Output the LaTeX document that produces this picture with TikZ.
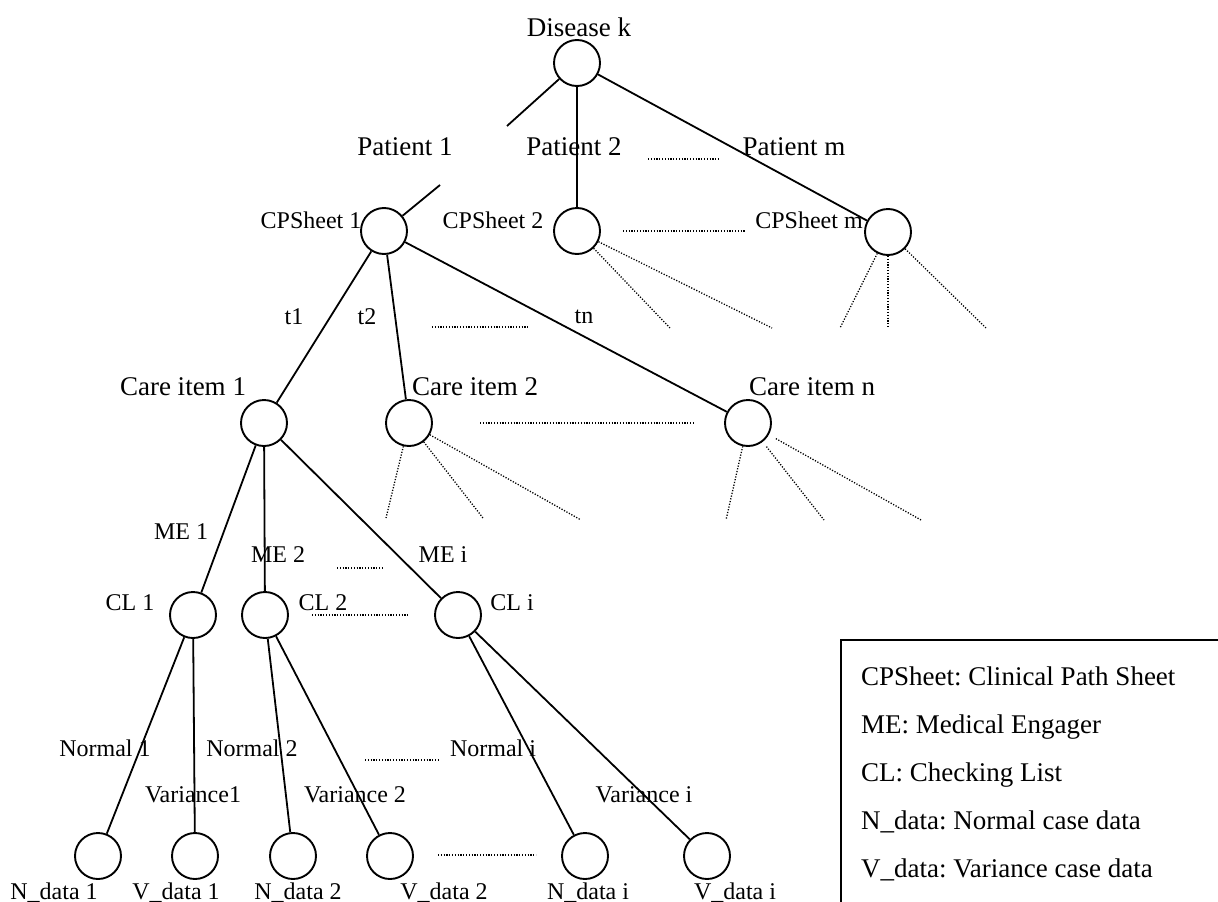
\documentclass[tikz,border=0pt]{standalone}
\usepackage{fontspec}
\setmainfont{Liberation Serif}
\begin{document}
\frenchspacing
\begin{tikzpicture}[x=1pt,y=-1pt,
  nd/.style={circle,draw,line width=1.9pt,minimum size=46pt,inner sep=0pt},
  big/.style={font=\fontsize{27}{30}\selectfont,inner sep=0pt},
  med/.style={font=\fontsize{24}{27}\selectfont,inner sep=0pt},
  lgd/.style={font=\fontsize{27}{30}\selectfont,inner sep=0pt,anchor=base west},
  edge/.style={line width=1.8pt},
  dotline/.style={line width=1.3pt,dash pattern=on 1.2pt off 1.6pt}]
\useasboundingbox (0,0) rectangle (1218,902);

% circles
\node[nd] (dis) at (577,63) {};
\node[nd] (cps1) at (384,231) {};
\node[nd] (cps2) at (577,231) {};
\node[nd] (cpsm) at (888,232) {};
\node[nd] (ci1) at (264,423) {};
\node[nd] (ci2) at (409,423) {};
\node[nd] (cin) at (748,423) {};
\node[nd] (cl1) at (193,615) {};
\node[nd] (cl2) at (265,615) {};
\node[nd] (cli) at (458,615) {};
\node[nd] (nd1) at (98,856) {};
\node[nd] (vd1) at (195,856) {};
\node[nd] (nd2) at (293,856) {};
\node[nd] (vd2) at (390,856) {};
\node[nd] (ndi) at (585,856) {};
\node[nd] (vdi) at (707,856) {};

% labels
\node[big] (tdis) at (579,27) {Disease k};
\node[big] (tp1) at (405,147) {Patient 1};
\node[big] (tp2) at (574,147) {Patient 2};
\node[big] (tpm) at (794,147) {Patient m};
\node[med] (tc1) at (311,220) {CPSheet 1};
\node[med] (tc2) at (493,220) {CPSheet 2};
\node[med] (tcm) at (809,220) {CPSheet m};
\node[med] (tt1) at (294,317) {t1};
\node[med] (tt2) at (367,317) {t2};
\node[med] (ttn) at (584,317) {tn};
\node[big] (tci1) at (183,387) {Care item 1};
\node[big] (tci2) at (475,387) {Care item 2};
\node[big] (tcin) at (812,387) {Care item n};
\node[med] (tme1) at (181,532) {ME 1};
\node[med] (tme2) at (278,555) {ME 2};
\node[med] (tmei) at (443,555) {ME i};
\node[med] (tcl1) at (130,603) {CL 1};
\node[med] (tcl2) at (323,603) {CL 2};
\node[med] (tcli) at (512,603) {CL i};
\node[med] (tn1) at (105,748) {Normal 1};
\node[med] (tn2) at (252,748) {Normal 2};
\node[med] (tni) at (493,748) {Normal i};
\node[med] (tv1) at (193,795) {Variance1};
\node[med] (tv2) at (355,795) {Variance 2};
\node[med] (tvi) at (644,795) {Variance i};
\node[med,anchor=base] (tnd1) at (54,899) {N\_data 1};
\node[med,anchor=base] (tvd1) at (176,899) {V\_data 1};
\node[med,anchor=base] (tnd2) at (298,899) {N\_data 2};
\node[med,anchor=base] (tvd2) at (444,899) {V\_data 2};
\node[med,anchor=base] (tndi) at (588,899) {N\_data i};
\node[med,anchor=base] (tvdi) at (735,899) {V\_data i};

% free ends
\coordinate (p1stub) at (507,126);
\coordinate (p1top) at (440,185);
\coordinate (c2a) at (670,328);
\coordinate (c2b) at (772,328);
\coordinate (cma) at (840,328);
\coordinate (cmb) at (888,327);
\coordinate (cmc) at (986,328);
\coordinate (i2a) at (386,518);
\coordinate (i2b) at (483,518);
\coordinate (i2c) at (581,520);
\coordinate (ina) at (726,520);
\coordinate (inb) at (824,520);
\coordinate (inc) at (921,520);

% solid connectors
\draw[edge] (dis) -- (p1stub);
\draw[edge] (dis) -- (cps2);
\draw[edge] (dis) -- (cpsm);
\draw[edge] (p1top) -- (cps1);
\draw[edge] (cps1) -- (ci1);
\draw[edge] (cps1) -- (ci2);
\draw[edge] (cps1) -- (cin);
\draw[edge] (ci1) -- (cl1);
\draw[edge] (ci1) -- (cl2);
\draw[edge] (ci1) -- (cli);
\draw[edge] (cl1) -- (nd1);
\draw[edge] (cl1) -- (vd1);
\draw[edge] (cl2) -- (nd2);
\draw[edge] (cl2) -- (vd2);
\draw[edge] (cli) -- (ndi);
\draw[edge] (cli) -- (vdi);

% dotted connectors
\draw[dotline] (cps2) -- (c2a);
\draw[dotline] (cps2) -- (c2b);
\draw[dotline] (cpsm) -- (cma);
\draw[dotline] (cpsm) -- (cmb);
\draw[dotline] (cpsm) -- (cmc);
\draw[dotline] (ci2) -- (i2a);
\draw[dotline] (ci2) -- (i2b);
\draw[dotline] (ci2) -- (i2c);
\draw[dotline] (cin) -- (ina);
\draw[dotline,shorten <=6pt] (cin) -- (inb);
\draw[dotline,shorten <=8pt] (cin) -- (inc);

% ellipsis marks
\draw[dotline] (648,159) -- (720,159);
\draw[dotline] (623,231) -- (745,231);
\draw[dotline] (432,327) -- (528,327);
\draw[dotline] (480,423) -- (695,423);
\draw[dotline] (337,568) -- (383,568);
\draw[dotline] (312,615) -- (408,615);
\draw[dotline] (365,760) -- (438,760);
\draw[dotline] (438,855) -- (536,855);

% legend
\draw[line width=1.9pt] (841,910) -- (841,640) -- (1225,640);
\node[lgd] (lg1) at (861,685) {CPSheet: Clinical Path Sheet};
\node[lgd] (lg2) at (861,733) {ME: Medical Engager};
\node[lgd] (lg3) at (861,781) {CL: Checking List};
\node[lgd] (lg4) at (861,829) {N\_data: Normal case data};
\node[lgd] (lg5) at (861,877) {V\_data: Variance case data};
\end{tikzpicture}
\end{document}
